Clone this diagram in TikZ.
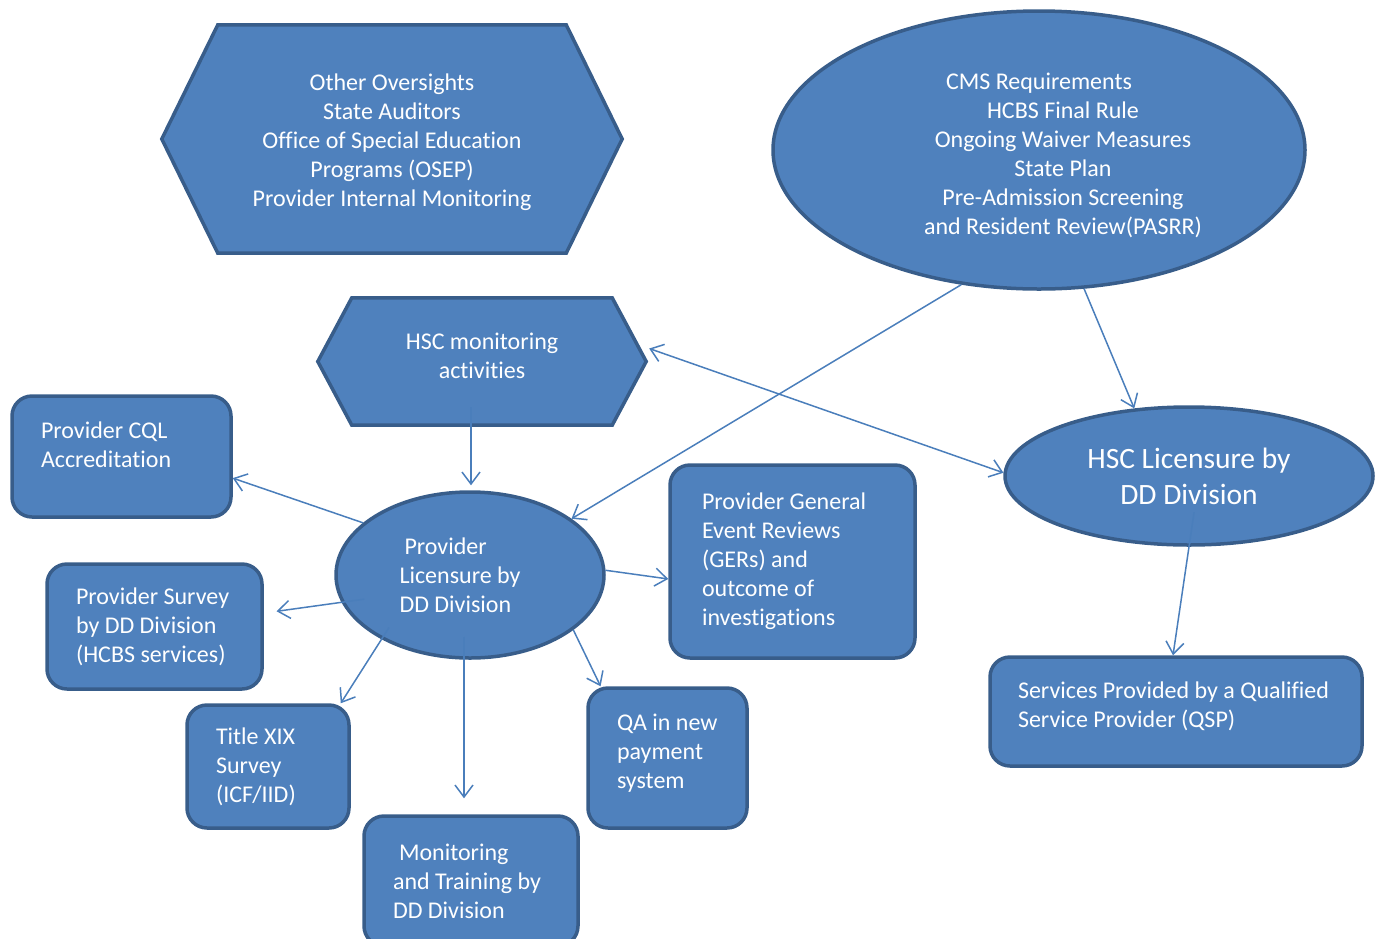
\documentclass[tikz,border=0pt]{standalone}
\usepackage{fontspec}
\setmainfont[Ligatures=NoCommon]{Carlito}
\usetikzlibrary{arrows.meta,shapes.geometric,backgrounds}
\definecolor{boxfill}{HTML}{4F81BD}
\definecolor{boxline}{HTML}{385D8A}
\definecolor{linkline}{HTML}{4A7EBB}

\begin{document}
\begin{tikzpicture}[x=1pt,y=-1pt,
  every node/.style={text=white,font=\fontsize{24}{29}\selectfont},
  box/.style={draw=boxline,fill=boxfill,line width=3.5pt,rounded corners=20pt,inner xsep=0pt,align=flush left},
  oval/.style={ellipse,draw=boxline,fill=boxfill,line width=3.5pt,inner sep=0pt},
  hexa/.style={draw=boxline,fill=boxfill,line width=3.5pt,line join=miter},
  link/.style={draw=linkline,line width=1.5pt,-{Straight Barb[length=12pt,width=18pt]}},
  twoway/.style={link,{Straight Barb[length=12pt,width=18pt]}-{Straight Barb[length=12pt,width=18pt]}}]
  \useasboundingbox (0,0) rectangle (1382,938);

  % top row
  \node[align=center,minimum width=460pt,minimum height=228pt] (ovs) at (392,139)
    {\mbox{}\\[-5pt]Other Oversights\\State Auditors\\Office of Special Education\\Programs (OSEP)\\Provider Internal Monitoring};
  \node[oval,align=center,minimum width=532pt,minimum height=278pt] (cms) at (1039,150)
    {\mbox{}\\[-1pt]CMS Requirements\\\hspace*{48pt}HCBS Final Rule\\\hspace*{48pt}Ongoing Waiver Measures\\\hspace*{48pt}State Plan\\\hspace*{48pt}Pre-Admission Screening\\\hspace*{48pt}and Resident Review(PASRR)};

  % middle
  \node[align=center,minimum width=328pt,minimum height=127pt] (hsc) at (482,361.5)
    {HSC monitoring\\activities\\[-17pt]\mbox{}};
  \node[oval,align=flush left,text width=141pt,minimum width=268pt,minimum height=166pt] (plic) at (470,575)
    {\hspace*{5pt}Provider\\Licensure by\\DD Division};
  \node[oval,align=center,minimum width=368pt,minimum height=138pt,font=\fontsize{29.5}{36}\selectfont] (hlic) at (1189,476)
    {HSC Licensure by\\DD Division};

  % boxes
  \node[box,text width=161pt,minimum width=219pt,minimum height=121pt] (cql) at (121.5,456.5)
    {Provider CQL\\Accreditation\\[-5pt]\mbox{}};
  \node[box,text width=157pt,minimum width=215pt,minimum height=125pt] (sur) at (154.5,626.5)
    {Provider Survey\\by DD Division\\(HCBS services)};
  \node[box,text width=104pt,minimum width=162pt,minimum height=123pt] (tit) at (268,766.5)
    {Title XIX\\Survey\\(ICF/IID)};
  \node[box,text width=156pt,minimum width=214pt,minimum height=130pt] (mon) at (471,881)
    {\hspace*{6pt}Monitoring\\and Training by\\DD Division};
  \node[box,text width=101pt,minimum width=159pt,minimum height=140pt] (qa) at (667.5,758)
    {\mbox{QA in new}\\payment\\system\\[-16pt]\mbox{}};
  \node[box,text width=181pt,minimum width=245pt,minimum height=193pt] (gen) at (792.5,561.5)
    {Provider General\\Event Reviews\\(GERs) and\\outcome of\\investigations};
  \node[box,text width=316pt,minimum width=372pt,minimum height=109pt] (ser) at (1176,711.5)
    {\mbox{Services Provided by a Qualified}\\Service Provider (QSP)\\[-16pt]\mbox{}};

  \begin{scope}[on background layer]
    \draw[hexa] (ovs.west) -- ([xshift=56pt]ovs.north west) -- ([xshift=-56pt]ovs.north east)
      -- (ovs.east) -- ([xshift=-56pt]ovs.south east) -- ([xshift=56pt]ovs.south west) -- cycle;
    \draw[hexa] (hsc.west) -- ([xshift=34pt]hsc.north west) -- ([xshift=-34pt]hsc.north east)
      -- (hsc.east) -- ([xshift=-34pt]hsc.south east) -- ([xshift=34pt]hsc.south west) -- cycle;
  \end{scope}

  % connectors
  \draw[link] (cms.240) -- (plic.29);
  \draw[link] (cms.288) -- (hlic.129);
  \draw[twoway] ([xshift=3pt,yshift=13pt]hsc.east) -- (hlic.179);
  \draw[link,shorten <=-18pt,shorten >=5pt] ([xshift=-11pt]hsc.south) -- ([xshift=1pt]plic.north);
  \draw[link] (plic.154) -- (cql.-11);
  \draw[link,shorten <=-23pt,shorten >=13pt] (plic.192) -- (sur.7);
  \draw[link,shorten <=-14pt] (plic.216) -- (tit.41);
  \draw[link,shorten <=-23pt,shorten >=16pt] ([xshift=-6pt]plic.south) -- ([xshift=-7pt]mon.north);
  \draw[link] (plic.-28) -- (qa.133);
  \draw[link] (plic.2) -- (gen.188);
  \draw[link,shorten <=-35pt] (hlic.south) -- ([xshift=-3pt]ser.north);
\end{tikzpicture}
\end{document}
